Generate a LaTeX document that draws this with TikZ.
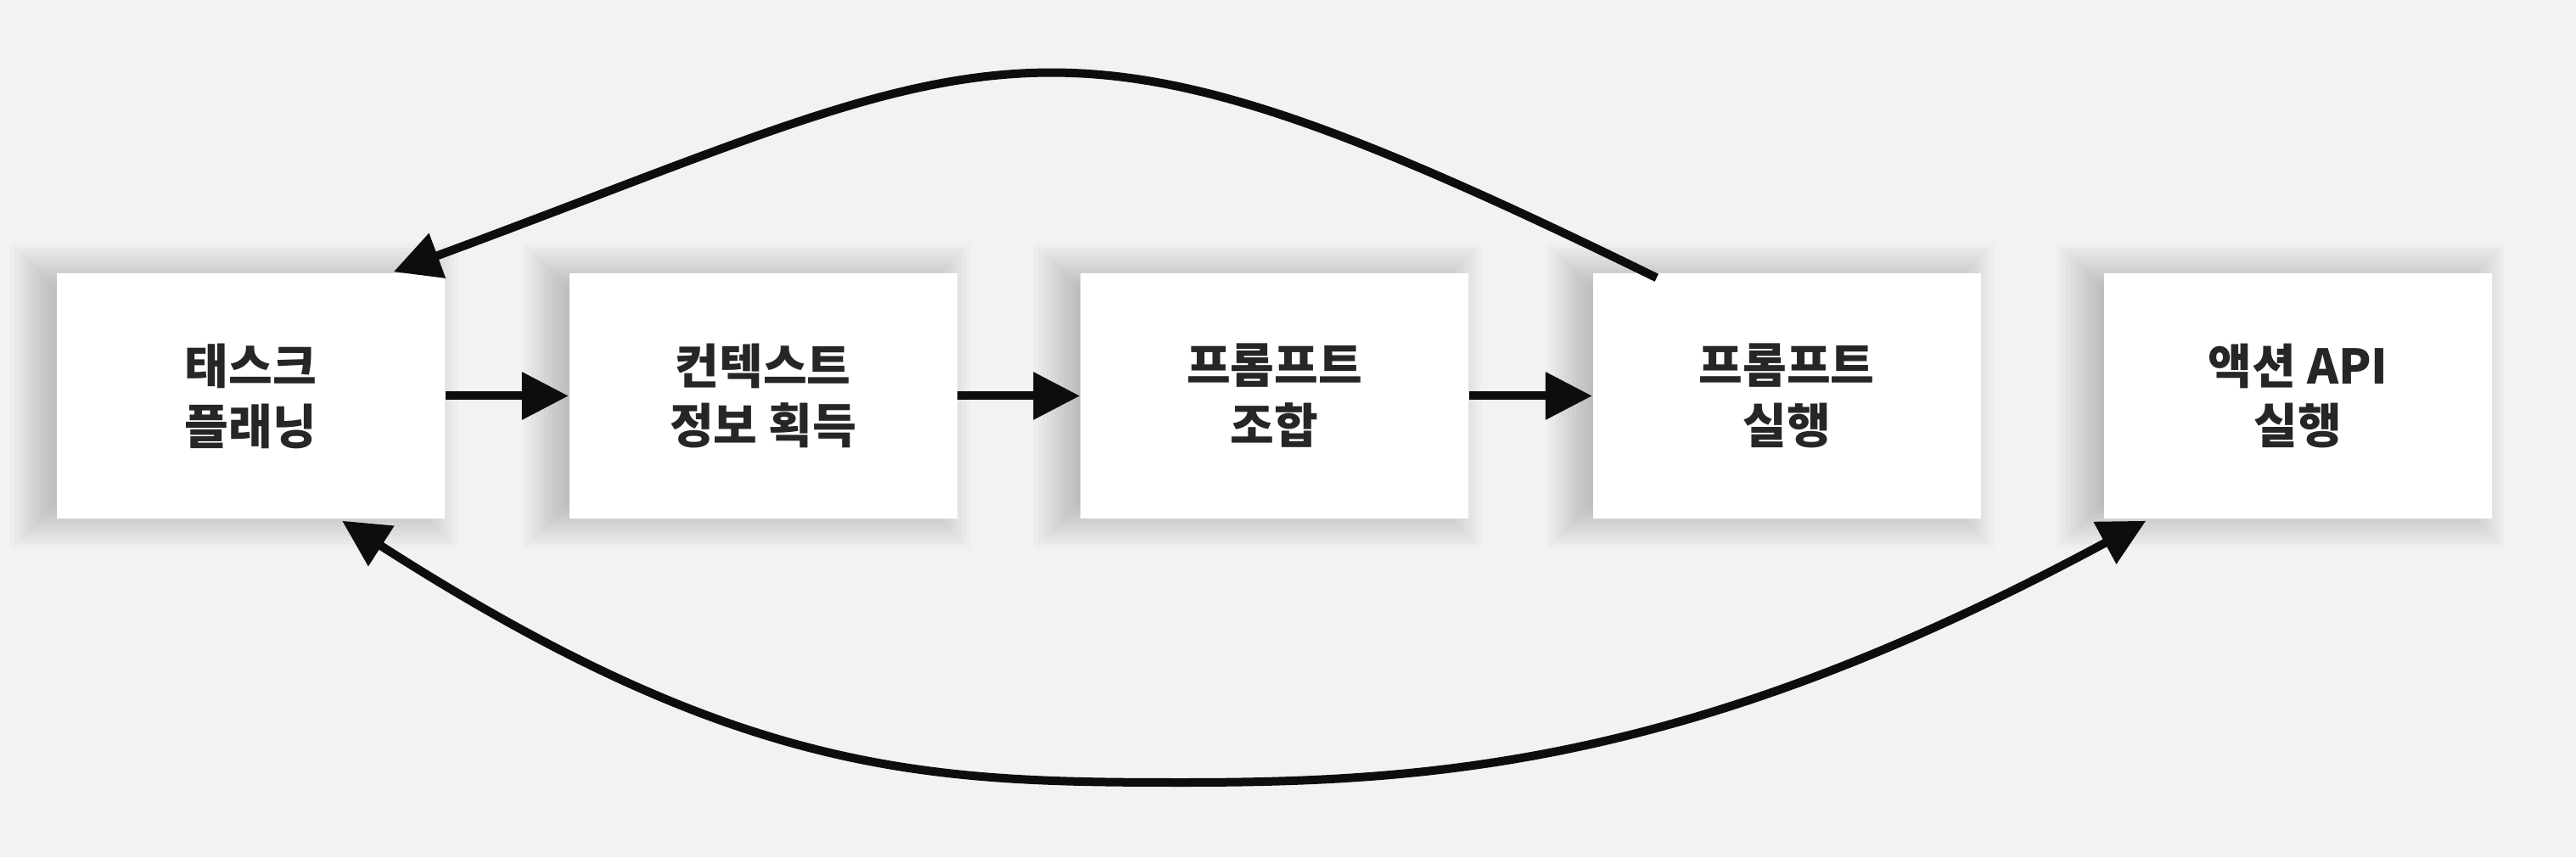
\documentclass[tikz,border=0pt]{standalone}
\usepackage{fontspec}
\setmainfont{Noto Sans CJK KR}
\usepackage{tikz}
\usetikzlibrary{arrows.meta}
\definecolor{bgGray}{HTML}{F2F2F2}
\definecolor{textGray}{HTML}{262626}
\definecolor{lineBlack}{HTML}{0D0D0D}

\begin{document}
\begin{tikzpicture}
[boxDecorate/.style={shape=rectangle,fill=white,inner sep=0pt,
    minimum width=4.57cm,minimum height=2.89cm,align=center,
    font=\fontsize{16}{20.2}\selectfont\bfseries,text=textGray},%
  shadowDecorate/.style={fill=black,fill opacity=0.02},%
  arrowDecorate/.style={-{Triangle[length=0.55cm,width=0.54cm]},
    line width=0.1cm,draw=lineBlack}]
\fill[bgGray] (0,0) rectangle (30.35,10.1);
\useasboundingbox (0,0) rectangle (30.35,10.1);
%% boxes with soft shadows
\foreach \nodename/\x/\nodetext in {1/2.955/{태스크\\플래닝}, 2/8.99/{컨텍스트\\정보 획득},
  3/15.015/{프롬프트\\조합}, 4/21.05/{프롬프트\\실행}, 5/27.075/{액션 API\\실행}}
{
  \foreach \k in {-7,...,7}
    \fill[shadowDecorate] ({\x-2.485-\k*0.05},{3.99-\k*0.05})
      rectangle ({\x+2.085+\k*0.05},{6.88+\k*0.05});
  \node (\nodename) at (\x,5.435) [boxDecorate] {\nodetext};
}
%% straight arrows
\foreach \startnode/\endnode in {1/2, 2/3, 3/4}
{
  \draw[arrowDecorate] (\startnode.east) -- (\endnode.west);
}
%% curved arrows
\coordinate (loopBottom) at (13.94,0.88);
\draw[arrowDecorate] ([xshift=0.76cm,yshift=-0.06cm]4.north west)
  .. controls +(-7.31,3.58) and +(7.31,2.70) .. ([xshift=-0.61cm,yshift=0.01cm]1.north east);
\draw[arrowDecorate,{Triangle[length=0.55cm,width=0.54cm]}-{Triangle[length=0.55cm,width=0.54cm]}]
  ([xshift=1.075cm,yshift=-0.02cm]1.south)
  .. controls +(4.70,-3.02) and +(-3.0,0) .. (loopBottom)
  .. controls +(3.0,0) and +(-5.28,-2.85) .. ([xshift=0.5cm,yshift=-0.02cm]5.south west);
\end{tikzpicture}
\end{document}
